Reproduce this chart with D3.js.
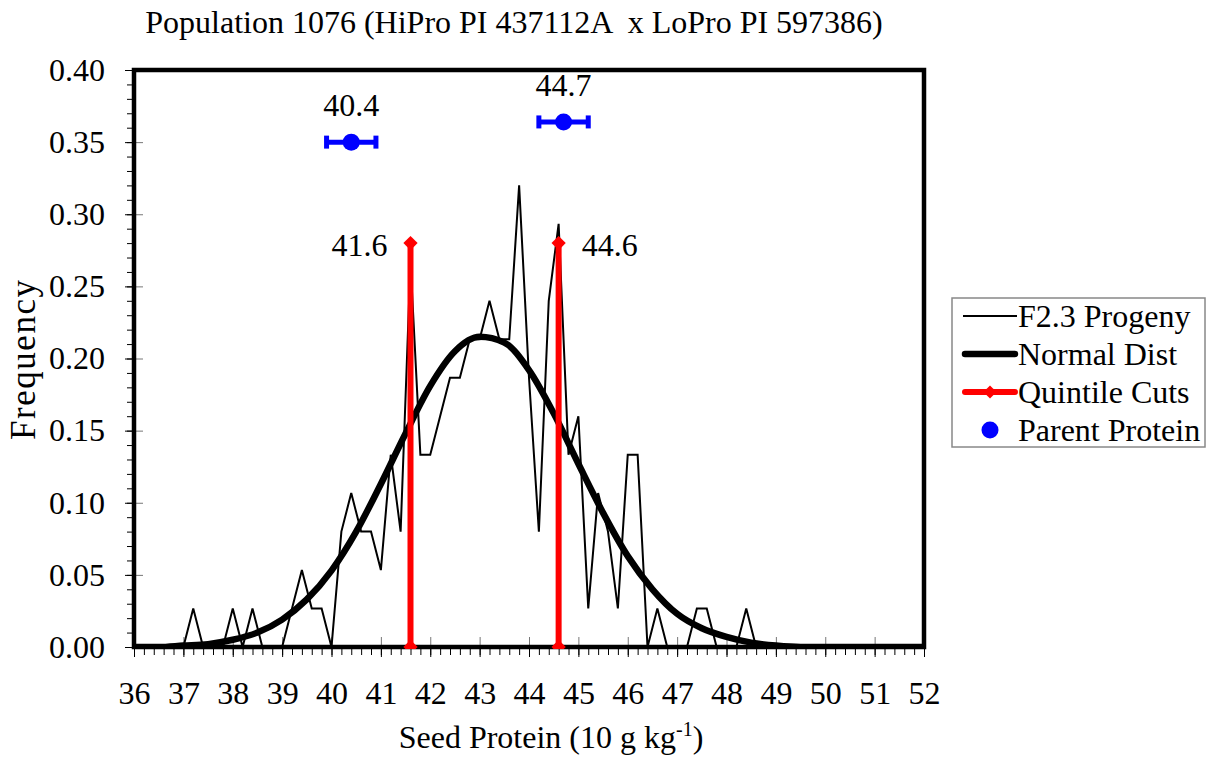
<!DOCTYPE html>
<html lang="en">
<head>
    <meta charset="UTF-8">
    <title>Population 1076</title>
    <script src="https://d3js.org/d3.v7.min.js"></script>
    <style>
        body { margin: 0; background: #fff; }
        svg { display: block; }
        svg text { font-family: "Liberation Serif", "Times New Roman", Times, serif !important; }
    </style>
    <script>

        // F2.3 progeny frequency, 0.2 unit bins
        let progenyX = [37.0, 37.2, 37.4, 37.6, 37.8, 38.0, 38.2, 38.4, 38.6, 38.8, 39.0, 39.2, 39.4, 39.6, 39.8,
            40.0, 40.2, 40.4, 40.6, 40.8, 41.0, 41.2, 41.4, 41.6, 41.8, 42.0, 42.2, 42.4, 42.6, 42.8,
            43.0, 43.2, 43.4, 43.6, 43.8, 44.0, 44.2, 44.4, 44.6, 44.8, 45.0, 45.2, 45.4, 45.6, 45.8,
            46.0, 46.2, 46.4, 46.6, 46.8, 47.0, 47.2, 47.4, 47.6, 47.8, 48.0, 48.2, 48.4, 48.6];
        let progenyY = [0, 0.0267, 0, 0, 0, 0.0267, 0, 0.0267, 0, 0, 0, 0.0267, 0.0533, 0.0267, 0.0267,
            0, 0.08, 0.1067, 0.08, 0.08, 0.0533, 0.1333, 0.08, 0.2667, 0.1333, 0.1333, 0.16, 0.1867, 0.1867, 0.2133,
            0.2133, 0.24, 0.2133, 0.2133, 0.32, 0.1867, 0.08, 0.24, 0.2933, 0.1333, 0.16, 0.0267, 0.1067, 0.08, 0.0267,
            0.1333, 0.1333, 0, 0.0267, 0, 0, 0, 0.0267, 0.0267, 0, 0, 0, 0.0267, 0];

        // normal distribution curve
        let normalX = [36, 36.5, 37, 37.5, 38, 38.5, 39, 39.5, 40, 40.5, 41, 41.5, 42, 42.5, 43, 43.5,
            44, 44.5, 45, 45.5, 46, 46.5, 47, 47.5, 48, 48.5, 49, 49.5, 50, 51, 52];
        let normalY = [0, 0, 0.001, 0.002, 0.005, 0.010, 0.019, 0.033, 0.053, 0.080, 0.113, 0.148, 0.181, 0.205, 0.215, 0.211,
            0.192, 0.162, 0.127, 0.093, 0.063, 0.040, 0.023, 0.013, 0.007, 0.003, 0.001, 0, 0, 0, 0];

        // quintile cuts
        let cutX = [41.6, 44.6];
        let cutTop = 0.28;

        // parent protein means with error bars
        let parentX = [40.4, 44.7];
        let parentY = [0.35, 0.364];
        let parentErr = [0.5, 0.5];

        let xTicks = d3.range(36, 53, 1);
        let yTicks = [0, 0.05, 0.10, 0.15, 0.20, 0.25, 0.30, 0.35, 0.40];

        let legendLabels = ["F2.3 Progeny", "Normal Dist", "Quintile Cuts", "Parent Protein"];

        const serif = "'Liberation Serif', 'Times New Roman', serif";
        const fs = 32;

        document.addEventListener("DOMContentLoaded", function() {
            drawChart();
        });

        function drawChart() {
            const width = 1206;
            const height = 757;
            const plot = {left: 134, right: 924, top: 70, bottom: 647};

            const svg = d3.select("svg").attr("width", width).attr("height", height)
                .attr("font-family", serif);

            const x = d3.scaleLinear().domain([36, 52]).range([plot.left, plot.right]);
            const y = d3.scaleLinear().domain([0, 0.4]).range([plot.bottom, plot.top]);

            svg.append("text")
                .attr("x", 514).attr("y", 33)
                .attr("text-anchor", "middle")
                .attr("font-size", fs)
                .attr("xml:space", "preserve")
                .text("Population 1076 (HiPro PI 437112A  x LoPro PI 597386)");

            svg.append("defs").append("clipPath").attr("id", "clip")
                .append("rect")
                .attr("x", plot.left).attr("y", plot.top - 40)
                .attr("width", plot.right - plot.left).attr("height", plot.bottom - plot.top + 42);

            // minor ticks
            svg.append("g")
                .attr("transform", `translate(0,${plot.bottom})`)
                .call(d3.axisBottom(x).tickValues(d3.range(36, 52.01, 0.2)).tickSize(8).tickFormat(""))
                .call(g => g.select(".domain").remove());
            svg.append("g")
                .attr("transform", `translate(${plot.left},0)`)
                .call(d3.axisLeft(y).tickValues(d3.range(0, 0.4001, 0.01)).tickSize(7).tickFormat(""))
                .call(g => g.select(".domain").remove());

            // major ticks, outside with labels
            const xAxis = svg.append("g")
                .attr("transform", `translate(0,${plot.bottom})`)
                .call(d3.axisBottom(x).tickValues(xTicks).tickSize(10).tickPadding(24).tickFormat(d3.format("d")))
                .attr("font-family", serif);
            xAxis.select(".domain").remove();
            xAxis.selectAll("text").attr("font-size", fs).attr("fill", "#000");

            const yAxis = svg.append("g")
                .attr("transform", `translate(${plot.left},0)`)
                .call(d3.axisLeft(y).tickValues(yTicks).tickSize(9).tickPadding(20).tickFormat(d3.format(".2f")))
                .attr("font-family", serif);
            yAxis.select(".domain").remove();
            yAxis.selectAll("text").attr("font-size", fs).attr("fill", "#000");

            // major ticks crossing into the plot
            svg.append("g")
                .attr("transform", `translate(0,${plot.bottom})`)
                .call(d3.axisBottom(x).tickValues(xTicks).tickSize(-10).tickFormat(""))
                .call(g => g.select(".domain").remove())
                .selectAll("line").attr("stroke", "#777");
            svg.append("g")
                .attr("transform", `translate(${plot.left},0)`)
                .call(d3.axisLeft(y).tickValues(yTicks).tickSize(-9).tickFormat(""))
                .call(g => g.select(".domain").remove())
                .selectAll("line").attr("stroke", "#777");

            const marks = svg.append("g").attr("clip-path", "url(#clip)");

            const progeny = progenyX.map((v, i) => ({x: v, y: progenyY[i]}));
            const normal = normalX.map((v, i) => ({x: v, y: normalY[i]}));

            marks.append("path")
                .datum(progeny)
                .attr("fill", "none")
                .attr("stroke", "#000")
                .attr("stroke-width", 2)
                .attr("stroke-linejoin", "miter")
                .attr("d", d3.line().x(d => x(d.x)).y(d => y(d.y)));

            marks.append("path")
                .datum(normal)
                .attr("fill", "none")
                .attr("stroke", "#000")
                .attr("stroke-width", 6.5)
                .attr("d", d3.line().curve(d3.curveMonotoneX).x(d => x(d.x)).y(d => y(d.y)));

            // frame
            svg.append("rect")
                .attr("x", plot.left).attr("y", plot.top)
                .attr("width", plot.right - plot.left).attr("height", plot.bottom - plot.top)
                .attr("fill", "none").attr("stroke", "#000").attr("stroke-width", 4.5);

            const cuts = svg.append("g").attr("clip-path", "url(#clip)");
            cutX.forEach(function(c) {
                cuts.append("line")
                    .attr("x1", x(c)).attr("x2", x(c))
                    .attr("y1", y(0)).attr("y2", y(cutTop))
                    .attr("stroke", "#ff0000").attr("stroke-width", 6);
                [0, cutTop].forEach(function(v) {
                    cuts.append("path")
                        .attr("d", d3.symbol(d3.symbolDiamond2, 130)())
                        .attr("transform", `translate(${x(c)},${y(v)})`)
                        .attr("fill", "#ff0000");
                });
            });

            svg.append("text").attr("x", x(cutX[0]) - 23).attr("y", y(cutTop) + 13)
                .attr("text-anchor", "end").attr("font-size", fs).text("41.6");
            svg.append("text").attr("x", x(cutX[1]) + 23).attr("y", y(cutTop) + 13)
                .attr("text-anchor", "start").attr("font-size", fs).text("44.6");

            parentX.forEach(function(p, i) {
                const g = svg.append("g").attr("fill", "#0000ff").attr("stroke", "#0000ff");
                g.append("line")
                    .attr("x1", x(p - parentErr[i])).attr("x2", x(p + parentErr[i]))
                    .attr("y1", y(parentY[i])).attr("y2", y(parentY[i]))
                    .attr("stroke-width", 5);
                [p - parentErr[i], p + parentErr[i]].forEach(function(e) {
                    g.append("line")
                        .attr("x1", x(e)).attr("x2", x(e))
                        .attr("y1", y(parentY[i]) - 6.5).attr("y2", y(parentY[i]) + 6.5)
                        .attr("stroke-width", 5);
                });
                g.append("circle")
                    .attr("cx", x(p)).attr("cy", y(parentY[i])).attr("r", 8.5)
                    .attr("stroke", "none");
                svg.append("text")
                    .attr("x", x(p)).attr("y", y(parentY[i]) - 26)
                    .attr("text-anchor", "middle").attr("font-size", fs)
                    .text(d3.format(".1f")(p));
            });

            // axis titles
            const xt = svg.append("text")
                .attr("x", 551).attr("y", 748)
                .attr("text-anchor", "middle").attr("font-size", fs);
            xt.append("tspan").text("Seed Protein (10 g kg");
            xt.append("tspan").attr("font-size", 20).attr("dy", -12).text("-1");
            xt.append("tspan").attr("dy", 12).text(")");

            svg.append("text")
                .attr("transform", "translate(35,360) rotate(-90)")
                .attr("text-anchor", "middle").attr("font-size", 35)
                .attr("textLength", 160)
                .text("Frequency");

            // legend
            const lg = svg.append("g");
            lg.append("rect")
                .attr("x", 952).attr("y", 298).attr("width", 253).attr("height", 149)
                .attr("fill", "#fff").attr("stroke", "#888").attr("stroke-width", 1.5);
            const rowY = [316, 354, 392, 430];
            legendLabels.forEach(function(label, i) {
                const ry = rowY[i];
                if (i === 0) {
                    lg.append("line").attr("x1", 963).attr("x2", 1017).attr("y1", ry).attr("y2", ry)
                        .attr("stroke", "#000").attr("stroke-width", 2);
                } else if (i === 1) {
                    lg.append("line").attr("x1", 965).attr("x2", 1015).attr("y1", ry).attr("y2", ry)
                        .attr("stroke", "#000").attr("stroke-width", 6.5).attr("stroke-linecap", "round");
                } else if (i === 2) {
                    lg.append("line").attr("x1", 965).attr("x2", 1015).attr("y1", ry).attr("y2", ry)
                        .attr("stroke", "#ff0000").attr("stroke-width", 6).attr("stroke-linecap", "round");
                    lg.append("path").attr("d", d3.symbol(d3.symbolDiamond2, 110)())
                        .attr("transform", `translate(990,${ry})`).attr("fill", "#ff0000");
                } else {
                    lg.append("circle").attr("cx", 990).attr("cy", ry).attr("r", 8.5).attr("fill", "#0000ff");
                }
                lg.append("text").attr("x", 1018).attr("y", ry + 11).attr("font-size", fs).text(label);
            });
        }

    </script>
</head>
<body>
    <svg></svg>
</body>
</html>
